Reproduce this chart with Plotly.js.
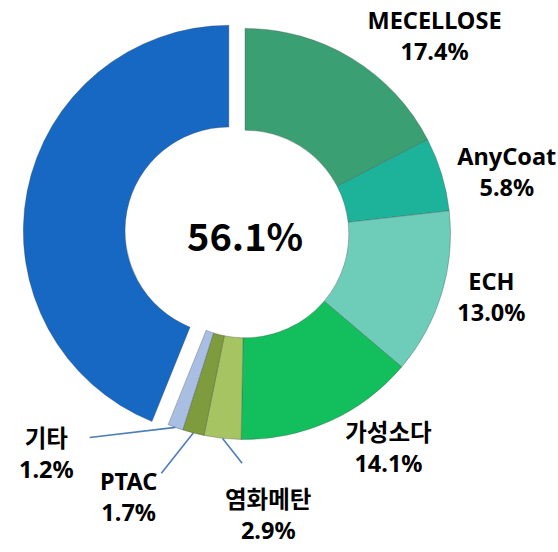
<!DOCTYPE html>
<html>
<head>
<meta charset="utf-8">
<script src="https://cdn.plot.ly/plotly-3.0.1.min.js"></script>
<style>html,body{margin:0;padding:0;background:#fff;}#chart{width:558px;height:552px;}</style>
</head>
<body>
<div id="chart"></div>
<script>
const labels = ['MECELLOSE', 'AnyCoat', 'ECH', '가성소다', '염화메탄', 'PTAC', '기타', '자체'];
const values = [17.4, 5.8, 13.0, 14.1, 2.9, 1.7, 1.2, 43.9];
const colors = ['#3a9f72', '#1db39a', '#6dcdb9', '#13be5d', '#a6c461', '#7e9c3d', '#a9bee3', '#1768c2'];
const pulls = [0, 0, 0, 0, 0, 0, 0, 0.08];
// 'pie' = label drawn by Plotly outside the slice, 'callout' = label with leader line, 'none' = no label
const labelMode = ['pie', 'pie', 'pie', 'pie', 'callout', 'callout', 'callout', 'none'];
// callout label placement (fraction of whole figure, from bottom-left): text centre and leader-line start
const calloutText = {'염화메탄': [0.480, 0.068], 'PTAC': [0.230, 0.100], '기타': [0.084, 0.178]};
const calloutTail = {'염화메탄': [0.436, 0.158], 'PTAC': [0.287, 0.140], '기타': [0.158, 0.207]};

const W = 558, H = 552;
const M = {l: 22, r: 90, t: 12, b: 96};
const font = "'Noto Sans', 'Noto Sans CJK KR', sans-serif";
const fontCJK = "'Noto Sans CJK KR', 'Noto Sans', sans-serif";
const labelSize = 23.5;

const total = values.reduce((a, b) => a + b, 0);
const centerValue = values.filter((v, i) => labelMode[i] !== 'none').reduce((a, b) => a + b, 0);
const fmt = (i) => '<b>' + labels[i] + '<br>' + values[i].toFixed(1) + '%</b>';
const texts = values.map((v, i) => labelMode[i] === 'pie' ? fmt(i) : '');

const trace = {
  type: 'pie',
  labels: labels,
  values: values,
  text: texts,
  textinfo: 'text',
  textposition: 'outside',
  hole: 0.505,
  sort: false,
  direction: 'clockwise',
  rotation: 0,
  pull: pulls,
  marker: {colors: colors, line: {color: 'rgba(60,60,60,0.5)', width: 0.6}},
  outsidetextfont: {family: font, size: labelSize, color: '#000'},
  showlegend: false,
  hoverinfo: 'label+percent'
};

// geometry of the pie as Plotly lays it out (domain = whole plot area)
const pw = W - M.l - M.r, ph = H - M.t - M.b;
const maxPull = Math.max(...pulls);
const R = Math.min(pw, ph) / (2 + 2 * maxPull);
const cx = M.l + pw / 2, cy = M.t + ph / 2;
const toX = (f) => (f * W - M.l) / pw;   // figure fraction -> plot-area paper
const toY = (f) => (f * H - M.b) / ph;

const annotations = [{
  text: '<b>' + centerValue.toFixed(1) + '%</b>',
  x: 0.5, y: 0.5, xref: 'paper', yref: 'paper', xanchor: 'center', yanchor: 'middle',
  showarrow: false,
  font: {family: fontCJK, size: 38, color: '#000'}
}];

let cum = 0;
values.forEach((v, i) => {
  const mid = (cum + v / 2) / total * 2 * Math.PI;
  cum += v;
  if (labelMode[i] !== 'callout') return;
  const tipPx = cx + R * Math.sin(mid), tipPy = cy - R * Math.cos(mid);
  const tail = calloutTail[labels[i]], pos = calloutText[labels[i]];
  annotations.push({
    x: toX(tipPx / W), y: toY(1 - tipPy / H), ax: toX(tail[0]), ay: toY(tail[1]),
    xref: 'paper', yref: 'paper', axref: 'paper', ayref: 'paper',
    text: '', showarrow: true, arrowhead: 0, arrowwidth: 1.6, arrowcolor: '#4a7ebb', standoff: 0
  });
  annotations.push({
    x: toX(pos[0]), y: toY(pos[1]), xref: 'paper', yref: 'paper',
    xanchor: 'center', yanchor: 'middle',
    text: fmt(i), showarrow: false, align: 'center',
    font: {family: font, size: labelSize, color: '#000'}
  });
});

const layout = {
  width: W,
  height: H,
  margin: M,
  paper_bgcolor: '#fff',
  plot_bgcolor: '#fff',
  showlegend: false,
  annotations: annotations
};

Plotly.newPlot('chart', [trace], layout, {displayModeBar: false, staticPlot: true});
</script>
</body>
</html>
